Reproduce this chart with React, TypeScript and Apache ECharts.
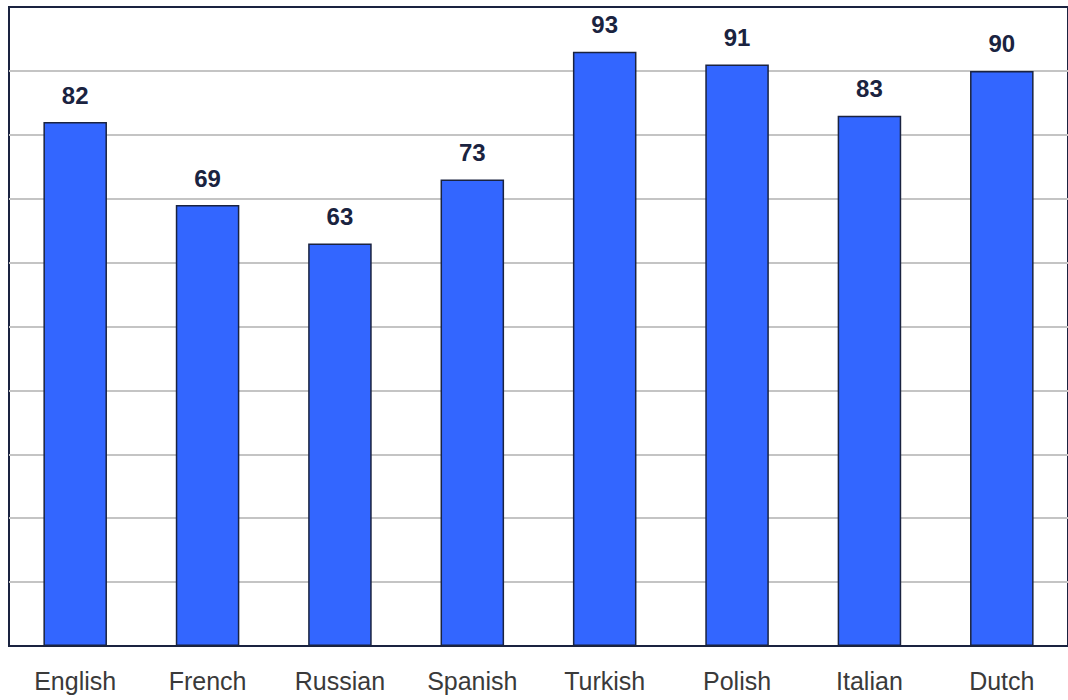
import React, { useEffect, useRef } from "react";
import * as echarts from "echarts";

const categories = ["English", "French", "Russian", "Spanish", "Turkish", "Polish", "Italian", "Dutch"];
const values = [82, 69, 63, 73, 93, 91, 83, 90];

export default function App() {
  const ref = useRef<HTMLDivElement>(null);
  useEffect(() => {
    document.body.style.margin = "0";
    const chart = echarts.init(ref.current!, null, { renderer: "svg" });
    chart.setOption({
      animation: false,
      grid: {
        left: 9,
        right: -1,
        top: 7,
        bottom: 54,
        show: true,
        borderColor: "#1a2340",
        borderWidth: 2,
        containLabel: false,
      },
      xAxis: {
        type: "category",
        data: categories,
        axisLine: { show: true, lineStyle: { color: "#1a2340", width: 2 } },
        axisTick: { show: false },
        axisLabel: {
          color: "#3a3a3a",
          fontSize: 25,
          fontFamily: "Liberation Sans, Arial, sans-serif",
          margin: 22,
        },
      },
      yAxis: {
        type: "value",
        min: 0,
        max: 100,
        interval: 10,
        axisLabel: { show: false },
        axisLine: { show: false },
        axisTick: { show: false },
        splitLine: { showMinLine: false, showMaxLine: false, lineStyle: { color: "#c4c4c4", width: 2 } },
      },
      series: [
        {
          type: "bar",
          data: values,
          barWidth: "48%",
          z: 3,
          itemStyle: { color: "#3366ff", borderColor: "#1a2340", borderWidth: 1.5 },
          label: {
            show: true,
            position: "top",
            distance: 15,
            color: "#1a2340",
            fontSize: 24,
            fontWeight: "bold",
            fontFamily: "Liberation Sans, Arial, sans-serif",
          },
        },
      ],
    });
    return () => chart.dispose();
  }, []);
  return <div ref={ref} style={{ width: 1068, height: 700 }} />;
}
